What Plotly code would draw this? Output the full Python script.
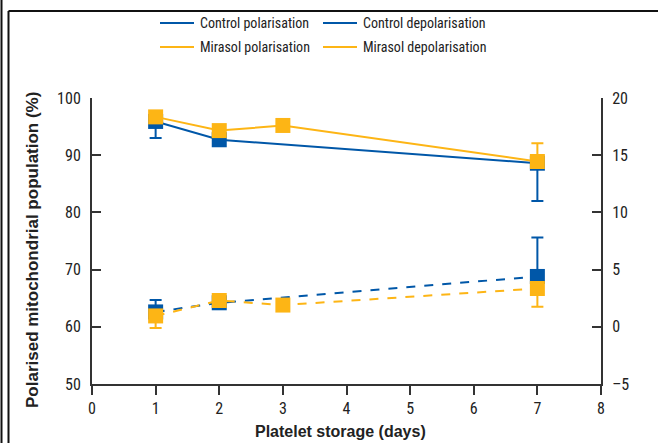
import plotly.graph_objects as go

# ---- data ----
days_control = [1, 2, 7]
days_mirasol = [1, 2, 3, 7]

control_pol = [95.9, 92.7, 88.6]
control_pol_err_minus = [2.9, 0, 6.6]

mirasol_pol = [96.7, 94.3, 95.2, 88.9]
mirasol_pol_err_plus = [0, 0, 0, 3.2]

control_depol = [1.3, 2.1, 4.4]
control_depol_err_plus = [1.05, 0, 3.4]

mirasol_depol = [0.95, 2.3, 1.9, 3.35]
mirasol_depol_err_minus = [1.05, 0, 0, 1.6]

x_ticks = [0, 1, 2, 3, 4, 5, 6, 7, 8]
left_ticks = [50, 60, 70, 80, 90, 100]
right_ticks = [-5, 0, 5, 10, 15, 20]
right_ticktext = ["\u20135", "0", "5", "10", "15", "20"]

legend_labels = ["Control polarisation", "Control depolarisation",
                 "Mirasol polarisation", "Mirasol depolarisation"]
x_title = "Platelet storage (days)"
y_title = "Polarised mitochondrial population (%)"

BLUE = "#0057A8"
ORANGE = "#FDB515"
AXIS = "#333333"
FONT = "Roboto Condensed, Liberation Sans Narrow, Arial Narrow, Liberation Sans, Arial, sans-serif"
TITLEFONT = "Liberation Sans, Arial, sans-serif"

fig = go.Figure()

def err(plus=None, minus=None, color=None):
    n = len(plus) if plus is not None else len(minus)
    return dict(type="data", symmetric=False,
                array=plus if plus is not None else [0] * n,
                arrayminus=minus if minus is not None else [0] * n,
                color=color, thickness=2, width=6)

fig.add_trace(go.Scatter(x=days_control, y=control_pol, mode="lines+markers",
                         line=dict(color=BLUE, width=2),
                         marker=dict(symbol="square", size=15, color=BLUE),
                         error_y=err(minus=control_pol_err_minus, color=BLUE),
                         showlegend=False, yaxis="y"))
fig.add_trace(go.Scatter(x=days_mirasol, y=mirasol_pol, mode="lines+markers",
                         line=dict(color=ORANGE, width=2),
                         marker=dict(symbol="square", size=15, color=ORANGE),
                         error_y=err(plus=mirasol_pol_err_plus, color=ORANGE),
                         showlegend=False, yaxis="y"))
fig.add_trace(go.Scatter(x=days_control, y=control_depol, mode="lines+markers",
                         line=dict(color=BLUE, width=2, dash="dash"),
                         marker=dict(symbol="square", size=15, color=BLUE),
                         error_y=err(plus=control_depol_err_plus, color=BLUE),
                         showlegend=False, yaxis="y2"))
fig.add_trace(go.Scatter(x=days_mirasol, y=mirasol_depol, mode="lines+markers",
                         line=dict(color=ORANGE, width=2, dash="dash"),
                         marker=dict(symbol="square", size=15, color=ORANGE),
                         error_y=err(minus=mirasol_depol_err_minus, color=ORANGE),
                         showlegend=False, yaxis="y2"))

W, H = 658, 443
L, R, T, B = 92, 57, 98, 59
pw, ph = W - L - R, H - T - B

def px(x):
    return (x - L) / pw

def py(y):
    return (H - B - y) / ph

shapes = []
annotations = []
legend_colors = [BLUE, BLUE, ORANGE, ORANGE]
legend_pos = [(160, 23), (323, 23), (160, 47), (323, 47)]
for lab, col, (lx, ly) in zip(legend_labels, legend_colors, legend_pos):
    shapes.append(dict(type="line", xref="paper", yref="paper",
                       x0=px(lx), x1=px(lx + 34), y0=py(ly), y1=py(ly),
                       line=dict(color=col, width=2)))
    annotations.append(dict(text=lab, xref="paper", yref="paper",
                            x=px(lx + 38), y=py(ly), xanchor="left", yanchor="middle",
                            showarrow=False, font=dict(family=FONT, size=14, color="#222")))

# axis titles
annotations.append(dict(text="<b>%s</b>" % x_title, xref="paper", yref="paper",
                        x=px(340), y=py(431), xanchor="center", yanchor="middle",
                        showarrow=False, font=dict(family=TITLEFONT, size=16, color="#222")))
annotations.append(dict(text="<b>%s</b>" % y_title, xref="paper", yref="paper",
                        x=px(32), y=py(250), xanchor="center", yanchor="middle",
                        textangle=-90, showarrow=False,
                        font=dict(family=TITLEFONT, size=17, color="#222")))

# frame lines
shapes.append(dict(type="line", xref="paper", yref="paper", x0=px(1.5), x1=px(1.5),
                   y0=py(0), y1=py(H + 5), line=dict(color="#111", width=2)))
shapes.append(dict(type="line", xref="paper", yref="paper", x0=px(8.5), x1=px(8.5),
                   y0=py(11), y1=py(H + 5), line=dict(color="#111", width=2)))
shapes.append(dict(type="line", xref="paper", yref="paper", x0=px(8.5), x1=px(W + 5),
                   y0=py(11), y1=py(11), line=dict(color="#111", width=2)))

tickfont = dict(family=FONT, size=16, color="#222")
fig.update_layout(
    width=W, height=H,
    margin=dict(l=L, r=R, t=T, b=B, autoexpand=False),
    paper_bgcolor="white", plot_bgcolor="white",
    showlegend=False,
    font=dict(family=FONT, size=14, color="#222"),
    xaxis=dict(range=[0, 8], tickvals=x_ticks, ticks="outside", ticklen=9, tickwidth=2,
               tickcolor=AXIS, showline=True, linewidth=2, linecolor=AXIS,
               showgrid=False, zeroline=False, tickfont=tickfont, automargin=False),
    yaxis=dict(range=[50, 100], tickvals=left_ticks, ticks="inside", ticklen=9, tickwidth=2,
               tickcolor=AXIS, showline=True, linewidth=2, linecolor=AXIS,
               showgrid=False, zeroline=False, tickfont=tickfont, ticklabelstandoff=6,
               automargin=False),
    yaxis2=dict(range=[-5, 20], tickvals=right_ticks, ticktext=right_ticktext,
                overlaying="y", side="right", ticks="inside", ticklen=9, tickwidth=2,
                tickcolor=AXIS, showline=True, linewidth=2, linecolor=AXIS,
                showgrid=False, zeroline=False, tickfont=tickfont, ticklabelstandoff=6,
                automargin=False),
    shapes=shapes,
    annotations=annotations,
)

fig.write_html("out.html", config={"displayModeBar": False},
               post_script="document.body.style.margin='0';document.body.style.overflow='hidden';")
